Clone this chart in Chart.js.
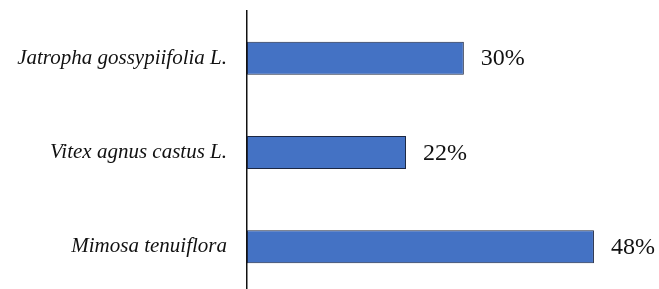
<!DOCTYPE html>
<html>
<head>
<meta charset="utf-8">
<script src="https://cdn.jsdelivr.net/npm/chart.js@4.4.0/dist/chart.umd.min.js"></script>
<style>
  html, body { margin: 0; padding: 0; background: #fff; overflow: hidden; }
  #wrap { width: 659px; height: 294px; position: relative; }
</style>
</head>
<body>
<div id="wrap"><canvas id="speciesChart"></canvas></div>
<script>
// data
var species = ["Jatropha gossypiifolia L.", "Vitex agnus castus L.", "Mimosa tenuiflora"];
var shares = [30, 22, 48];

// draws "30%" etc just past the end of each bar
var valueLabels = {
    id: 'valueLabels',
    afterDatasetsDraw: function(chart) {
        var ctx = chart.ctx;
        var meta = chart.getDatasetMeta(0);
        ctx.save();
        ctx.font = '24px "Liberation Serif", "Times New Roman", serif';
        ctx.fillStyle = '#111';
        ctx.textAlign = 'left';
        ctx.textBaseline = 'middle';
        meta.data.forEach(function(bar, i) {
            ctx.fillText(shares[i] + '%', bar.x + 17, bar.y + 1);
        });
        ctx.restore();
    }
};

var myBarChart = new Chart(document.getElementById('speciesChart'), {
    type: 'bar',
    data: {
        labels: species,
        datasets: [
            {
                data: shares,
                backgroundColor: '#4472C4',
                borderColor: '#1c2742',
                borderWidth: 1,
                borderSkipped: false,
                categoryPercentage: 1,
                barPercentage: 0.35
            }
        ]
    },
    options: {
        indexAxis: 'y',
        responsive: true,
        maintainAspectRatio: false,
        animation: false,
        layout: { padding: { top: 11, bottom: 0, left: 0, right: 0 } },
        plugins: {
            legend: { display: false },
            tooltip: { enabled: false }
        },
        scales: {
            x: {
                display: false,
                min: 0,
                max: 57
            },
            y: {
                afterFit: function(scale) {
                    scale.width = 247;
                    scale.paddingTop = 0;
                    scale.paddingBottom = 0;
                },
                grid: { display: false, drawTicks: false },
                border: { display: true, color: '#111', width: 1.5 },
                ticks: {
                    padding: 20,
                    color: '#111',
                    font: { family: '"Liberation Serif", "Times New Roman", serif', size: 21, style: 'italic' }
                }
            }
        }
    },
    plugins: [valueLabels]
});
</script>
</body>
</html>
